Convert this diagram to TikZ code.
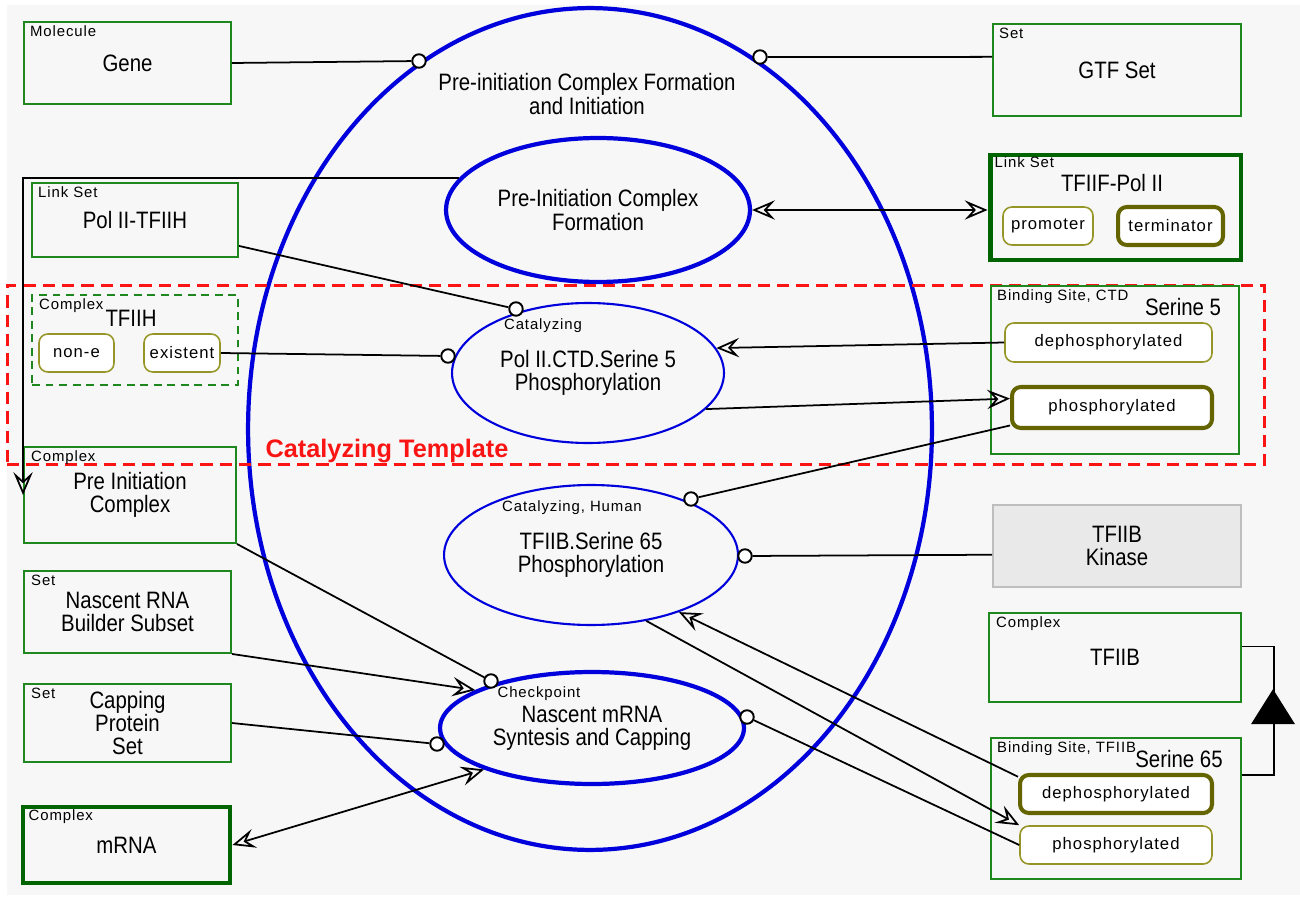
\documentclass[tikz,border=0pt]{standalone}
\usepackage{fontspec}
\setmainfont{Liberation Sans}
\newfontfamily\namefont{Liberation Sans}[FakeStretch=0.86]
\newfontfamily\statefont{Liberation Sans}[LetterSpace=6]
\usetikzlibrary{shapes.geometric, arrows.meta, positioning, calc}

\definecolor{boxgreen}{RGB}{30,135,30}
\definecolor{darkgreen}{RGB}{0,100,0}
\definecolor{stateolive}{RGB}{150,150,40}
\definecolor{darkolive}{RGB}{100,100,0}
\definecolor{procblue}{RGB}{0,0,220}
\definecolor{bggray}{RGB}{247,247,247}
\definecolor{kinasefill}{RGB}{233,233,233}
\definecolor{kinaseline}{RGB}{190,190,190}
\definecolor{tmplred}{RGB}{250,20,20}

\begin{document}
\begin{tikzpicture}[
  x=0.02cm, y=-0.02cm,
  >={Stealth[open, length=13pt, width=11pt, inset=5pt]},
  objbox/.style={draw=boxgreen, line width=1.1pt, rectangle, inner sep=0pt, align=center, font=\namefont\fontsize{13.5}{13.3}\selectfont},
  heavybox/.style={objbox, draw=darkgreen, line width=2.8pt},
  complexbox/.style={objbox, dash pattern=on 4.5pt off 3.2pt},
  kinasebox/.style={objbox, draw=kinaseline, fill=kinasefill},
  statebox/.style={draw=stateolive, line width=0.9pt, fill=white, rounded corners=5pt, inner sep=0pt, font=\statefont\fontsize{9.5}{10}\selectfont},
  heavystate/.style={statebox, draw=darkolive, line width=2.3pt},
  kindlabel/.style={anchor=north west, inner sep=1pt, font=\statefont\fontsize{8.5}{9}\selectfont},
  nametext/.style={inner sep=1pt, align=center, font=\namefont\fontsize{13.5}{13.3}\selectfont},
  procell/.style={draw=procblue, line width=1.2pt, ellipse, inner sep=0pt, align=center, font=\namefont\fontsize{13.5}{13.3}\selectfont},
  heavyproc/.style={procell, line width=2.4pt},
  knob/.style={draw, circle, fill=white, line width=1.1pt, minimum size=0.27cm, inner sep=0pt},
  tmplbox/.style={draw=tmplred, line width=1.7pt, dash pattern=on 7pt off 4pt, rectangle, inner sep=0pt},
  conn/.style={black, line width=1pt},
  flow/.style={->, black, line width=1pt},
  flow2/.style={<->, black, line width=1pt},
  isatri/.style={isosceles triangle, shape border rotate=90, isosceles triangle stretches, fill=black, minimum width=0.88cm, minimum height=0.7cm, inner sep=0pt}
]

% canvas
\useasboundingbox (0,0) rectangle (1300,898);
\fill[bggray] (7,5) rectangle (1300,895);

% processes
\node[heavyproc, minimum width=13.68cm, minimum height=16.84cm] (pici) at (590,429) {};
\node[nametext] (piciname) at (587,94) {Pre-initiation Complex Formation\\and Initiation};
\node[heavyproc, minimum width=6.08cm, minimum height=2.88cm] (picf) at (598,210) {Pre-Initiation Complex\\Formation};
\node[procell, minimum width=5.44cm, minimum height=2.8cm] (polii) at (588,373) {Pol II.CTD.Serine 5\\Phosphorylation};
\node[kindlabel, anchor=center] (polii-kind) at (543,326) {Catalyzing};
\node[procell, minimum width=5.88cm, minimum height=2.8cm] (s65) at (591,555) {TFIIB.Serine 65\\Phosphorylation};
\node[kindlabel, anchor=center] (s65-kind) at (572,508) {Catalyzing, Human};
\node[heavyproc, minimum width=6.08cm, minimum height=2.24cm] (nascent) at (592,728) {Nascent mRNA\\Syntesis and Capping};
\node[kindlabel, anchor=center] (nascent-kind) at (539,694) {Checkpoint};

% template frame
\node[tmplbox, minimum width=25.16cm, minimum height=3.6cm] (tmpl) at (636,375) {};
\node[text=tmplred, font=\bfseries\fontsize{14.4}{16}\selectfont, inner sep=0pt] (tmplname) at (387,451) {Catalyzing Template};

% left column
\node[objbox, minimum width=4.14cm, minimum height=1.64cm] (gene) at (127.5,63) {Gene};
\node[kindlabel] (gene-kind) at ([shift={(5,3)}]gene.north west) {Molecule};
\node[objbox, minimum width=4.12cm, minimum height=1.48cm] (poltfiih) at (135,220) {Pol II-TFIIH};
\node[kindlabel] (poltfiih-kind) at ([shift={(5,3)}]poltfiih.north west) {Link Set};
\node[complexbox, minimum width=4.12cm, minimum height=1.8cm] (tfiih) at (135,340) {};
\node[kindlabel] (tfiih-kind) at ([shift={(6,3)}]tfiih.north west) {Complex};
\node[nametext] (tfiih-name) at (131,318) {TFIIH};
\node[statebox, minimum width=1.5cm, minimum height=0.76cm] (none) at (76.5,353) {non-e};
\node[statebox, minimum width=1.52cm, minimum height=0.76cm] (exist) at (182,353) {existent};
\node[objbox, minimum width=4.24cm, minimum height=1.92cm] (pic) at (130,495) {Pre Initiation\\Complex};
\node[kindlabel] (pic-kind) at ([shift={(6,3)}]pic.north west) {Complex};
\node[objbox, minimum width=4.14cm, minimum height=1.64cm] (builder) at (127.5,612) {Nascent RNA\\Builder Subset};
\node[kindlabel] (builder-kind) at ([shift={(6,3)}]builder.north west) {Set};
\node[objbox, minimum width=4.14cm, minimum height=1.56cm] (capping) at (127.5,723) {Capping\\Protein\\Set};
\node[kindlabel] (capping-kind) at ([shift={(6,3)}]capping.north west) {Set};
\node[heavybox, minimum width=4.14cm, minimum height=1.52cm] (mrna) at (126.5,845) {mRNA};
\node[kindlabel] (mrna-kind) at ([shift={(6,3)}]mrna.north west) {Complex};

% right column
\node[objbox, minimum width=4.96cm, minimum height=1.84cm] (gtf) at (1117,70) {GTF Set};
\node[kindlabel] (gtf-kind) at ([shift={(5,3)}]gtf.north west) {Set};
\node[heavybox, minimum width=5.02cm, minimum height=2.1cm] (tfiif) at (1115.5,207.5) {};
\node[kindlabel] (tfiif-kind) at ([shift={(5,2)}]tfiif.north west) {Link Set};
\node[nametext] (tfiif-name) at (1112,183) {TFIIF-Pol II};
\node[statebox, minimum width=1.8cm, minimum height=0.76cm] (promoter) at (1048,226) {promoter};
\node[heavystate, minimum width=2.1cm, minimum height=0.76cm] (terminator) at (1170.5,226) {terminator};
\node[objbox, minimum width=4.96cm, minimum height=3.36cm] (bsctd) at (1115,370) {};
\node[kindlabel] (bsctd-kind) at ([shift={(5,3)}]bsctd.north west) {Binding Site, CTD};
\node[nametext] (bsctd-name) at (1183,307) {Serine 5};
\node[statebox, minimum width=4.14cm, minimum height=0.78cm] (dephos5) at (1108.5,342.5) {dephosphorylated};
\node[heavystate, minimum width=4.0cm, minimum height=0.82cm] (phos5) at (1112,407.5) {phosphorylated};
\node[kinasebox, minimum width=4.96cm, minimum height=1.64cm] (kinase) at (1117,546) {TFIIB\\Kinase};
\node[objbox, minimum width=5.04cm, minimum height=1.78cm] (tfiib) at (1115,657.5) {TFIIB};
\node[kindlabel] (tfiib-kind) at ([shift={(6,3)}]tfiib.north west) {Complex};
\node[objbox, minimum width=5.0cm, minimum height=2.82cm] (bs65) at (1116,808.5) {};
\node[kindlabel] (bs65-kind) at ([shift={(5,3)}]bs65.north west) {Binding Site, TFIIB};
\node[nametext] (bs65-name) at (1179,759) {Serine 65};
\node[heavystate, minimum width=3.84cm, minimum height=0.76cm] (dephos65) at (1116,794) {dephosphorylated};
\node[statebox, minimum width=3.84cm, minimum height=0.76cm] (phos65) at (1116,845) {phosphorylated};

% participation knobs
\node[knob] (k-gene) at (419,61) {};
\node[knob] (k-gtf) at (760,57) {};
\node[knob] (k-poltfiih) at (516,309) {};
\node[knob] (k-exist) at (448,356) {};
\node[knob] (k-phos5) at (691,499) {};
\node[knob] (k-kinase) at (745,556) {};
\node[knob] (k-pic) at (491,681) {};
\node[knob] (k-capping) at (437,744) {};
\node[knob] (k-nascent) at (747,717) {};

% connectors
\draw[conn]  (gene.east) -- (k-gene);
\draw[conn]  (gtf.174) -- (k-gtf);
\draw[flow]  (picf.167) -| (pic.west);
\draw[flow2] (picf.east) -- (picf.east -| tfiif.west);
\draw[conn]  (poltfiih.-14) -- (k-poltfiih);
\draw[conn]  (exist.east) -- (k-exist);
\draw[flow]  (dephos5.west) -- (polii.11);
\draw[flow]  (polii.-17) -- (phos5.175);
\draw[conn]  (phos5.190) -- (k-phos5);
\draw[conn]  (kinase.184) -- (k-kinase);
\draw[flow]  (dephos65.170) -- (s65.-33);
\draw[flow]  (s65.-50) -- (phos65.north west);
\draw[conn]  (k-nascent) -- (phos65.west);
\draw[conn]  (pic.south east) -- (k-pic);
\draw[flow]  (builder.south east) -- (nascent.162);
\draw[conn]  (capping.east) -- (k-capping);
\draw[flow2] (mrna.east) -- (nascent.201);

% TFIIB generalises its binding site
\draw[conn]  (tfiib.5) -- ++(32,0) |- (bs65.15);
\node[isatri] (isa) at (1273,712) {};
\end{tikzpicture}
\end{document}
